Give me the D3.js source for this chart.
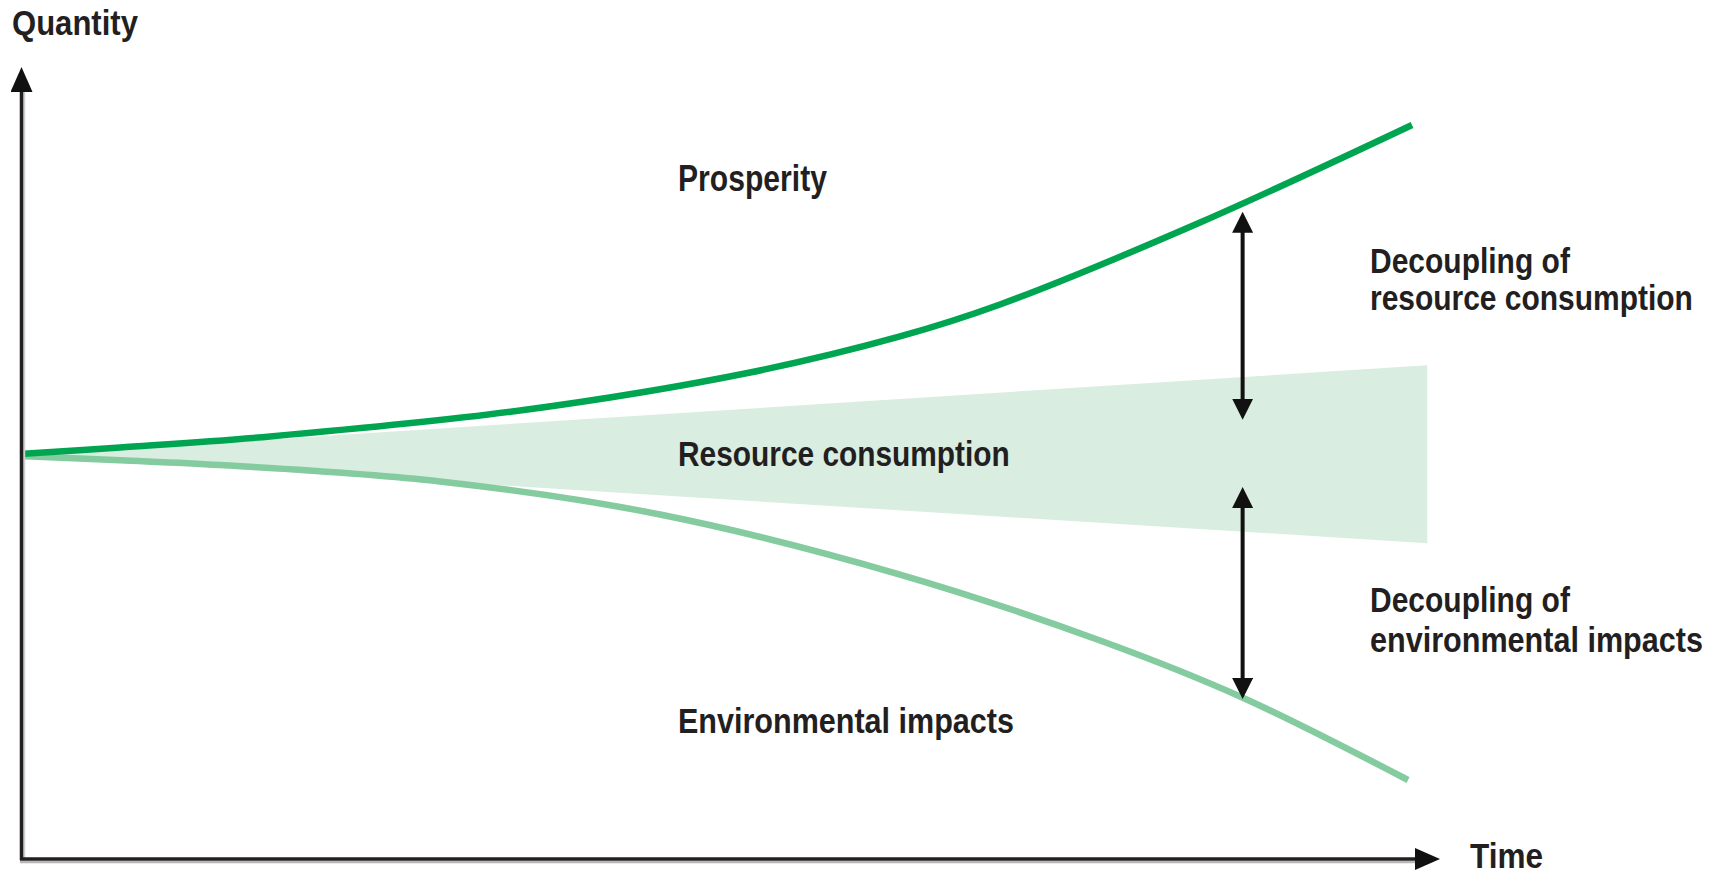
<!DOCTYPE html>
<html>
<head>
<meta charset="utf-8">
<script src="https://cdn.jsdelivr.net/npm/d3@7/dist/d3.min.js"></script>
<style>
  html, body { margin: 0; padding: 0; background: #fff; }
  svg { display: block; }
  .lbl {
    font-family: "Liberation Sans", Arial, sans-serif;
    font-weight: bold;
    fill: #231f20;
  }
</style>
</head>
<body>
<svg id="chart"></svg>
<script>
//DATA (time 0-100, quantity 0-100)/////////////////
var prosperityT = [0, 7.04, 17.61, 35.21, 51.41, 61.97, 69.01, 83.1, 98.03];
var prosperityV = [51.07, 51.9, 53.29, 56.57, 61.38, 65.93, 69.97, 80.34, 92.67];

var impactsT = [0, 7.04, 14.08, 29.58, 45.07, 61.97, 76.06, 85.92, 97.75];
var impactsV = [50.82, 50.28, 49.68, 47.6, 43.43, 35.84, 27.5, 20.42, 9.86];

// resource consumption band: time, low edge, high edge
var resourceT = [0, 99.1];
var resourceLow = [50.9, 39.8];
var resourceHigh = [50.9, 62.3];

// decoupling arrows: time, from, to
var decoupleT = [86.1, 86.1];
var decoupleFrom = [55.4, 46.9];
var decoupleTo = [81.7, 20.1];

var labelTexts = ["Prosperity", "Resource consumption", "Environmental impacts",
  "Decoupling of", "resource consumption", "Decoupling of", "environmental impacts"];
var axisTitles = ["Quantity", "Time"];

//LAYOUT//////////////////////////////////
var width = 1721, height = 874;
// [x, baseline, width, fontSize]
var labelPos = [
  [678, 191, 149, 36],
  [678, 466, 332, 36],
  [678, 733, 336, 36],
  [1370, 273, 200, 35],
  [1370, 310, 323, 35],
  [1370, 612, 200, 35],
  [1370, 652, 333, 35]
];
var axisTitlePos = [
  [12, 35, 126, 36],
  [1470, 868, 73, 35]
];

var svg = d3.select("#chart").attr("width", width).attr("height", height);

var x = d3.scaleLinear().domain([0, 100]).range([20, 1440]);
var y = d3.scaleLinear().domain([0, 100]).range([858, 67]);

//ARROW MARKERS///////////////////////////
var defs = svg.append("defs");
function marker(id, len, wid) {
  defs.append("marker")
    .attr("id", id)
    .attr("markerUnits", "userSpaceOnUse")
    .attr("viewBox", "0 0 " + len + " " + wid)
    .attr("refX", len - 8)
    .attr("refY", wid / 2)
    .attr("markerWidth", len)
    .attr("markerHeight", wid)
    .attr("orient", "auto-start-reverse")
    .append("path")
    .attr("d", "M0,0L" + len + "," + wid / 2 + "L0," + wid + "Z")
    .attr("fill", "#111");
}
marker("axHead", 25, 22);
marker("dcHead", 21, 21);

//RESOURCE BAND///////////////////////////
var band = resourceT.map(function (t, i) {
  return { t: t, lo: resourceLow[i], hi: resourceHigh[i] };
});
svg.append("path")
  .datum(band)
  .attr("fill", "#d9ede0")
  .attr("d", d3.area()
    .x(function (d) { return x(d.t); })
    .y0(function (d) { return y(d.lo); })
    .y1(function (d) { return y(d.hi); }));

//CURVES//////////////////////////////////
var lineGen = d3.line()
  .x(function (d) { return x(d[0]); })
  .y(function (d) { return y(d[1]); })
  .curve(d3.curveCatmullRom.alpha(0.5));

svg.append("path")
  .datum(d3.zip(impactsT, impactsV))
  .attr("fill", "none")
  .attr("stroke", "#84cb9f")
  .attr("stroke-width", 6.5)
  .attr("d", lineGen);

svg.append("path")
  .datum(d3.zip(prosperityT, prosperityV))
  .attr("fill", "none")
  .attr("stroke", "#00a551")
  .attr("stroke-width", 6.5)
  .attr("d", lineGen);

//AXES////////////////////////////////////
// soft grey shadow next to the axis strokes
svg.append("line")
  .attr("x1", x(0) + 4).attr("x2", x(0) + 4)
  .attr("y1", y(0)).attr("y2", y(100) + 20)
  .attr("stroke", "#cfcfcf").attr("stroke-width", 2.5);
svg.append("line")
  .attr("x1", x(0)).attr("x2", x(100) - 20)
  .attr("y1", y(0) + 4).attr("y2", y(0) + 4)
  .attr("stroke", "#b8b8b8").attr("stroke-width", 2.5);

svg.append("line")
  .attr("x1", x(0) + 1.5).attr("x2", x(0) + 1.5)
  .attr("y1", y(0) + 2).attr("y2", y(100) + 8)
  .attr("stroke", "#231f20").attr("stroke-width", 3.5)
  .attr("marker-end", "url(#axHead)");
svg.append("line")
  .attr("x1", x(0)).attr("x2", x(100) - 8)
  .attr("y1", y(0) + 1).attr("y2", y(0) + 1)
  .attr("stroke", "#231f20").attr("stroke-width", 3.5)
  .attr("marker-end", "url(#axHead)");

//DECOUPLING ARROWS///////////////////////
decoupleT.forEach(function (t, i) {
  var a = y(decoupleFrom[i]), b = y(decoupleTo[i]);
  var dir = b < a ? 1 : -1;
  svg.append("line")
    .attr("x1", x(t)).attr("x2", x(t))
    .attr("y1", a - dir * 8).attr("y2", b + dir * 8)
    .attr("stroke", "#111").attr("stroke-width", 4)
    .attr("marker-start", "url(#dcHead)")
    .attr("marker-end", "url(#dcHead)");
});

//TEXT////////////////////////////////////
// condensed look: squeeze each label horizontally to its measured width
function addText(txt, p) {
  var t = svg.append("text")
    .attr("class", "lbl")
    .attr("font-size", p[3])
    .text(txt);
  var w = t.node().getComputedTextLength();
  var sx = w > 0 ? p[2] / w : 1;
  t.attr("transform", "translate(" + p[0] + "," + p[1] + ") scale(" + sx + ",1)");
}
labelTexts.forEach(function (t, i) { addText(t, labelPos[i]); });
axisTitles.forEach(function (t, i) { addText(t, axisTitlePos[i]); });
</script>
</body>
</html>
